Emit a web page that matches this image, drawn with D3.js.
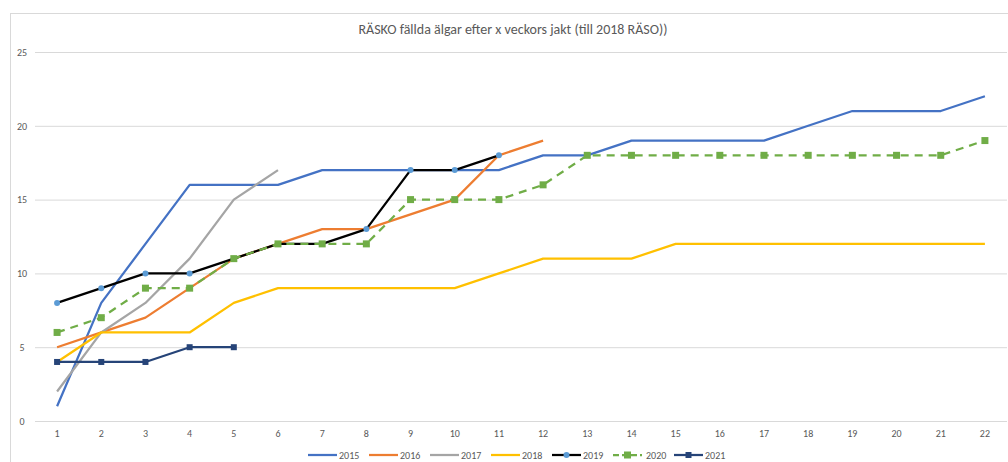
<!DOCTYPE html>
<html>
<head>
<meta charset="utf-8">
<script src="https://cdn.jsdelivr.net/npm/d3@7"></script>
<style>
  body { margin: 0; background: #fff; }
  text { font-family: Carlito, 'Liberation Sans Narrow', 'Liberation Sans', sans-serif; }
</style>
</head>
<body>
<svg width="1008" height="462"></svg>
<script>
const weeks = d3.range(1, 23)
const yTicks = [0, 5, 10, 15, 20, 25]

const v2015 = [1, 8, 12, 16, 16, 16, 17, 17, 17, 17, 17, 18, 18, 19, 19, 19, 19, 20, 21, 21, 21, 22]
const v2016 = [5, 6, 7, 9, 11, 12, 13, 13, 14, 15, 18, 19]
const v2017 = [2, 6, 8, 11, 15, 17]
const v2018 = [4, 6, 6, 6, 8, 9, 9, 9, 9, 9, 10, 11, 11, 11, 12, 12, 12, 12, 12, 12, 12, 12]
const v2019 = [8, 9, 10, 10, 11, 12, 12, 13, 17, 17, 18]
const v2020 = [6, 7, 9, 9, 11, 12, 12, 12, 15, 15, 15, 16, 18, 18, 18, 18, 18, 18, 18, 18, 18, 19]
const v2021 = [4, 4, 4, 5, 5]

const series = [
  { name: '2015', values: v2015, color: '#4472C4' },
  { name: '2016', values: v2016, color: '#ED7D31' },
  { name: '2017', values: v2017, color: '#A5A5A5' },
  { name: '2018', values: v2018, color: '#FFC000' },
  { name: '2019', values: v2019, color: '#000000', marker: 'circle', markerColor: '#5B9BD5' },
  { name: '2020', values: v2020, color: '#70AD47', marker: 'square', markerColor: '#70AD47', dash: '8,6', size: 7 },
  { name: '2021', values: v2021, color: '#264478', marker: 'square', markerColor: '#264478', size: 6 }
]

const svg = d3.select('svg')

// chart frame
svg.append('rect')
  .attr('x', 10.5).attr('y', 13.5)
  .attr('width', 1010).attr('height', 460)
  .attr('fill', 'none').attr('stroke', '#d9d9d9')

const plotLeft = 35, plotRight = 1007, plotTop = 52, plotBottom = 421

const x = d3.scaleBand().domain(weeks).range([plotLeft, plotRight])
const y = d3.scaleLinear().domain([0, 25]).range([plotBottom, plotTop])
const cx = d => x(d) + x.bandwidth() / 2

svg.append('text')
  .attr('x', 513).attr('y', 34)
  .attr('text-anchor', 'middle')
  .attr('font-size', 14)
  .attr('fill', '#595959')
  .text('RÄSKO fällda älgar efter x veckors jakt (till 2018 RÄSO))')

// grid
const yAxis = svg.append('g')
  .attr('transform', `translate(${plotLeft},0)`)
  .call(d3.axisLeft(y).tickValues(yTicks).tickSize(-(plotRight - plotLeft)).tickPadding(8))
yAxis.select('.domain').remove()
yAxis.selectAll('line').attr('stroke', '#d9d9d9')
yAxis.selectAll('text').attr('fill', '#595959').attr('font-size', 10)
  .attr('text-anchor', 'middle').attr('x', -13)

const xAxis = svg.append('g')
  .attr('transform', `translate(0,${plotBottom})`)
  .call(d3.axisBottom(x).tickSize(0).tickPadding(9))
xAxis.select('.domain').remove()
xAxis.selectAll('text').attr('fill', '#595959').attr('font-size', 10)

const line = d3.line().x((d, i) => cx(weeks[i])).y(d => y(d))

series.forEach(s => {
  const g = svg.append('g')
  g.append('path')
    .datum(s.values)
    .attr('d', line)
    .attr('fill', 'none')
    .attr('stroke', s.color)
    .attr('stroke-width', 2.25)
    .attr('stroke-linejoin', 'round')
    .attr('stroke-dasharray', s.dash || null)
  if (s.marker === 'circle') {
    g.selectAll('circle').data(s.values).enter().append('circle')
      .attr('cx', (d, i) => cx(weeks[i]))
      .attr('cy', d => y(d))
      .attr('r', 3)
      .attr('fill', s.markerColor)
  } else if (s.marker === 'square') {
    g.selectAll('rect').data(s.values).enter().append('rect')
      .attr('x', (d, i) => cx(weeks[i]) - s.size / 2)
      .attr('y', d => y(d) - s.size / 2)
      .attr('width', s.size).attr('height', s.size)
      .attr('fill', s.markerColor)
  }
})

// legend
const legend = svg.append('g')
  .attr('transform', 'translate(308,455)')
  .selectAll('g')
  .data(series)
  .enter()
  .append('g')
  .attr('transform', (d, i) => `translate(${i * 61},0)`)

legend.append('line')
  .attr('x1', 0).attr('x2', 29)
  .attr('stroke', d => d.color)
  .attr('stroke-width', 2.25)
  .attr('stroke-dasharray', d => d.dash ? '6,3' : null)
legend.filter(d => d.marker === 'circle').append('circle')
  .attr('cx', 14.5).attr('r', 3).attr('fill', d => d.markerColor)
legend.filter(d => d.marker === 'square').append('rect')
  .attr('x', d => 14.5 - d.size / 2).attr('y', d => -d.size / 2)
  .attr('width', d => d.size).attr('height', d => d.size)
  .attr('fill', d => d.markerColor)
legend.append('text')
  .attr('x', d => d.name === '2020' ? 33 : 31)
  .attr('dy', '0.35em')
  .attr('font-size', 10)
  .attr('fill', '#595959')
  .text(d => d.name)
</script>
</body>
</html>
